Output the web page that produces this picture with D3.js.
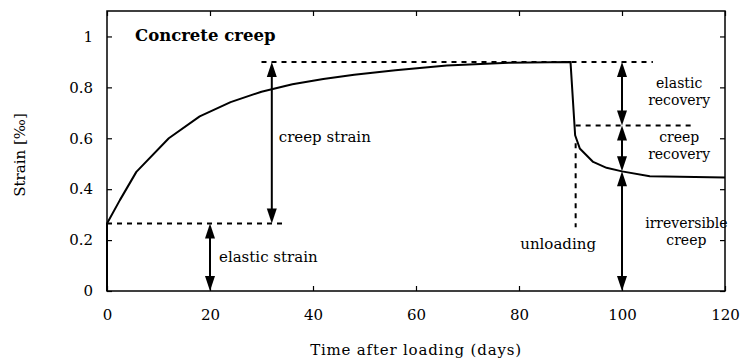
<!DOCTYPE html>
<html>
<head>
<meta charset="utf-8">
<script src="https://cdn.jsdelivr.net/npm/d3@7"></script>
<style>
  body { margin: 0; background: #fff; }
  text { font-family: "DejaVu Serif", serif; fill: #000; }
</style>
</head>
<body>
<div id="chart"></div>
<script>
// creep curve under load (days, strain in per mille)
const loadDays   = [0, 0, 2.5, 5.7, 12, 18, 24, 30, 36, 42, 48, 56, 66, 78, 90]
const loadStrain = [0, 0.265, 0.357, 0.468, 0.60, 0.686, 0.742, 0.783, 0.812, 0.833, 0.850, 0.867, 0.886, 0.897, 0.900]
// after unloading
const unloadDays   = [90, 90.9, 91.8, 94.4, 97, 100, 105.4, 120]
const unloadStrain = [0.900, 0.612, 0.560, 0.507, 0.484, 0.470, 0.451, 0.446]

// reference levels
const elasticLevel = 0.265
const peakLevel = 0.9
const recoveryLevel = 0.65
const residualLevel = 0.47
const unloadDay = 91

const xTicks = [0, 20, 40, 60, 80, 100, 120]
const yTicks = [0, 0.2, 0.4, 0.6, 0.8, 1]

const width = 750, height = 362
const margin = { left: 107, right: 25, top: 11, bottom: 71 }
const innerW = width - margin.left - margin.right
const innerH = height - margin.top - margin.bottom

const x = d3.scaleLinear().domain([0, 120]).range([0, innerW])
const y = d3.scaleLinear().domain([0, 1.1]).range([innerH, 0])

const svg = d3.select('#chart').append('svg')
    .attr('width', width)
    .attr('height', height)

const g = svg.append('g')
    .attr('transform', `translate(${margin.left},${margin.top})`)

// axes, ticks pointing inward, mirrored on top/right
const tickLen = 5
g.append('g')
    .attr('transform', `translate(0,${innerH})`)
    .call(d3.axisBottom(x).tickValues(xTicks).tickSize(-tickLen).tickPadding(18).tickFormat(d3.format('d')))
g.append('g')
    .call(d3.axisTop(x).tickValues(xTicks).tickSize(-tickLen).tickFormat(''))
g.append('g')
    .call(d3.axisLeft(y).tickValues(yTicks).tickSize(-tickLen).tickPadding(14).tickFormat(d => d === 0 || d === 1 ? d : d3.format('.1f')(d)))
g.append('g')
    .attr('transform', `translate(${innerW},0)`)
    .call(d3.axisRight(y).tickValues(yTicks).tickSize(-tickLen).tickFormat(''))

g.selectAll('.domain').remove()
g.selectAll('.tick line').attr('stroke', '#000').attr('stroke-width', 1.2)
g.selectAll('.tick text').attr('font-size', 15).attr('font-family', '"DejaVu Serif", serif').attr('fill', '#000')

g.append('rect')
    .attr('width', innerW)
    .attr('height', innerH)
    .attr('fill', 'none')
    .attr('stroke', '#000')
    .attr('stroke-width', 1.5)

// dashed guides
const dashed = (x1, x2, y1, y2) => g.append('line')
    .attr('x1', x(x1)).attr('x2', x(x2))
    .attr('y1', y(y1)).attr('y2', y(y2))
    .attr('stroke', '#000')
    .attr('stroke-width', 2)
    .attr('stroke-dasharray', '5,5')

dashed(0, 34, elasticLevel, elasticLevel)
dashed(30, 106, peakLevel, peakLevel)
dashed(91, 114, recoveryLevel, recoveryLevel)
dashed(unloadDay, unloadDay, 0.58, 0.25)

// curve
const line = d3.line().x(d => x(d[0])).y(d => y(d[1]))
const pts = loadDays.map((d, i) => [d, loadStrain[i]])
    .concat(unloadDays.map((d, i) => [d, unloadStrain[i]]).slice(1))
g.append('path')
    .datum(pts)
    .attr('d', line)
    .attr('fill', 'none')
    .attr('stroke', '#000')
    .attr('stroke-width', 2)
    .attr('stroke-linejoin', 'round')

// double-headed vertical arrows
const headL = 15, headW = 5
function arrow(day, v1, v2) {
    const px = x(day), yTop = y(Math.max(v1, v2)), yBot = y(Math.min(v1, v2))
    g.append('line')
        .attr('x1', px).attr('x2', px)
        .attr('y1', yTop + headL - 2).attr('y2', yBot - headL + 2)
        .attr('stroke', '#000')
        .attr('stroke-width', 2)
    g.append('path')
        .attr('d', `M${px},${yTop}L${px - headW},${yTop + headL}L${px + headW},${yTop + headL}Z`)
    g.append('path')
        .attr('d', `M${px},${yBot}L${px - headW},${yBot - headL}L${px + headW},${yBot - headL}Z`)
}
arrow(20, 0, elasticLevel)
arrow(32, elasticLevel, peakLevel)
arrow(100, recoveryLevel, peakLevel)
arrow(100, residualLevel, recoveryLevel)
arrow(100, 0, residualLevel)

// labels
const label = (px, py, txt, anchor, size) => g.append('text')
    .attr('x', px).attr('y', py)
    .attr('font-size', size || 15)
    .attr('text-anchor', anchor || 'start')
    .text(txt)

g.append('text')
    .attr('x', 28).attr('y', 30)
    .attr('font-size', 16.5)
    .attr('font-weight', 'bold')
    .text('Concrete creep')

label(x(32) + 7, 131, 'creep strain')
label(x(20) + 9, 251, 'elastic strain')
label(x(111.1), 77, 'elastic', 'middle', 14)
label(x(111.1), 94, 'recovery', 'middle', 14)
label(x(111.1), 131, 'creep', 'middle', 14)
label(x(111.1), 148, 'recovery', 'middle', 14)
label(x(112.5), 217, 'irreversible', 'middle', 14)
label(x(112.5), 234, 'creep', 'middle', 14)
label(x(87.6), 238, 'unloading', 'middle')

// axis titles
svg.append('text')
    .attr('x', margin.left + innerW / 2)
    .attr('y', 355)
    .attr('font-size', 15)
    .attr('letter-spacing', 0.8)
    .attr('text-anchor', 'middle')
    .text('Time after loading (days)')

svg.append('text')
    .attr('transform', `translate(25,${margin.top + 144}) rotate(-90)`)
    .attr('font-size', 15)
    .attr('text-anchor', 'middle')
    .text('Strain [‰]')
</script>
</body>
</html>
